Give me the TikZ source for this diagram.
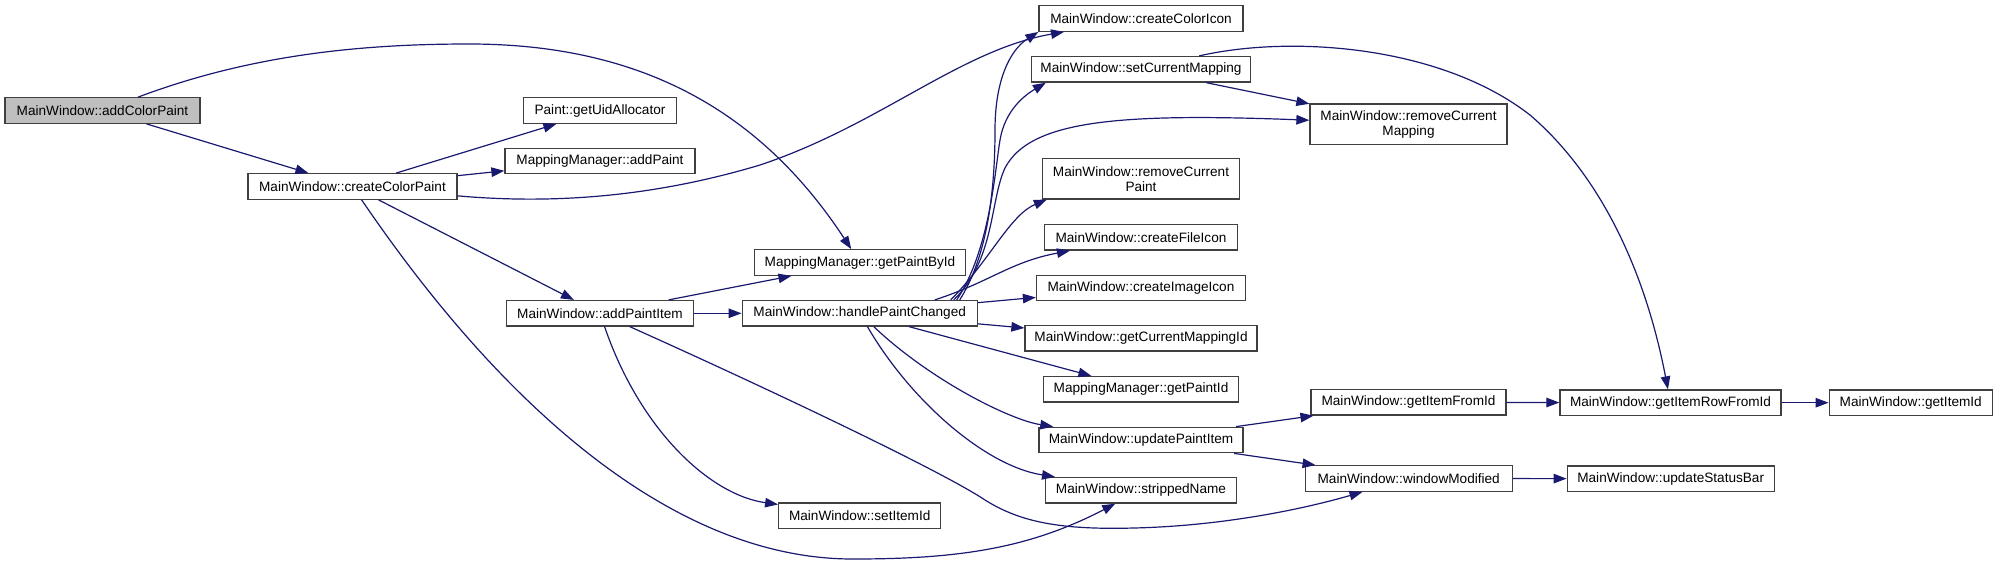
\documentclass[tikz,border=0pt]{standalone}
\usepackage{fontspec}
\setmainfont{Liberation Sans}
\usetikzlibrary{arrows.meta}

\definecolor{edgeblue}{HTML}{191970}
\definecolor{boxgray}{HTML}{404040}
\definecolor{rootgray}{HTML}{BFBFBF}

\tikzset{
	fn/.style={draw=boxgray, line width=1.3pt, fill=white, minimum height=25.5pt,
		inner sep=0pt, align=center, font=\fontsize{13.6}{15}\selectfont},
	fntwo/.style={fn, minimum height=40.3pt},
	call/.style={->, edgeblue, line width=1.2pt},
}

\begin{document}
\begin{tikzpicture}[x=1pt, y=-1pt, >={Triangle[length=13pt,width=9.5pt]}]
		
		% Fix the page to the size of the graph
		\useasboundingbox (0,0) rectangle (1997,565);
		
		% The function the graph starts from
		\node[fn, fill=rootgray, minimum width=195pt] (acp) at (102.5,110.5) {MainWindow::addColorPaint};
		
		% Second column
		\node[fn, minimum width=209pt] (ccp) at (352.5,186.5) {MainWindow::createColorPaint};
		
		% Third column
		\node[fn, minimum width=153pt] (gua) at (600,110.5) {Paint::getUidAllocator};
		\node[fn, minimum width=190pt] (mad) at (600,161) {MappingManager::addPaint};
		\node[fn, minimum width=187pt] (api) at (600,313.3) {MainWindow::addPaintItem};
		
		% Fourth column
		\node[fn, minimum width=211pt] (gpb) at (860,262.5) {MappingManager::getPaintById};
		\node[fn, minimum width=235pt] (hpc) at (859.7,313.3) {MainWindow::handlePaintChanged};
		\node[fn, minimum width=162pt] (sii) at (859.7,515.7) {MainWindow::setItemId};
		
		% Fifth column
		\node[fn, minimum width=204pt] (cci) at (1141,18.5) {MainWindow::createColorIcon};
		\node[fn, minimum width=219pt] (scm) at (1141,69.3) {MainWindow::setCurrentMapping};
		\node[fntwo, minimum width=197pt] (rcp) at (1141,178.7) {MainWindow::removeCurrent\\Paint};
		\node[fn, minimum width=193pt] (cfi) at (1141,237.3) {MainWindow::createFileIcon};
		\node[fn, minimum width=209pt] (cii) at (1141,288) {MainWindow::createImageIcon};
		\node[fn, minimum width=232pt] (gcm) at (1141,338.3) {MainWindow::getCurrentMappingId};
		\node[fn, minimum width=195pt] (gpi) at (1141,389.3) {MappingManager::getPaintId};
		\node[fn, minimum width=204pt] (upi) at (1141,440) {MainWindow::updatePaintItem};
		\node[fn, minimum width=191pt] (spn) at (1141,490.3) {MainWindow::strippedName};
		
		% Sixth column
		\node[fntwo, minimum width=197pt] (rcm) at (1408.5,124) {MainWindow::removeCurrent\\Mapping};
		\node[fn, minimum width=195pt] (gif) at (1408.5,402.3) {MainWindow::getItemFromId};
		\node[fn, minimum width=207pt] (wmd) at (1408.7,478.5) {MainWindow::windowModified};
		
		% Last columns
		\node[fn, minimum width=221pt] (grf) at (1670.5,402.7) {MainWindow::getItemRowFromId};
		\node[fn, minimum width=207pt] (usb) at (1670.7,478.7) {MainWindow::updateStatusBar};
		\node[fn, minimum width=163pt] (gid) at (1910.7,402.7) {MainWindow::getItemId};
		
		% Calls made by addColorPaint
		\draw[call] (acp) -- (ccp);
		\draw[call] (acp) .. controls (250,55) and (360,44) .. (469,44)
			.. controls (640,44) and (760,110) .. (gpb);
		
		% Calls made by createColorPaint
		\draw[call] (ccp) -- (gua);
		\draw[call] (ccp) -- (mad);
		\draw[call] (ccp) -- (api);
		\draw[call] (ccp) .. controls (560,205) and (660,195) .. (760,165)
			.. controls (880,125) and (960,50) .. (cci);
		\draw[call] (ccp) .. controls (430,300) and (620,560) .. (854,559)
			.. controls (960,559) and (1030,548) .. (spn);
		
		% Calls made by addPaintItem
		\draw[call] (api) -- (gpb);
		\draw[call] (api) -- (hpc);
		\draw[call] (api) .. controls (640,430) and (710,495) .. (sii);
		\draw[call] (api) .. controls (760,385) and (940,470) .. (985,500)
			.. controls (1020,522) and (1060,530) .. (1134,528)
			.. controls (1220,526) and (1300,510) .. (wmd);
		
		% Calls made by handlePaintChanged
		\draw[call] ([xshift=100pt]hpc.north) .. controls (985,260) and (995,200) .. (995,130)
			.. controls (995,80) and (1010,50) .. (cci.south west);
		\draw[call] ([xshift=97pt]hpc.north) .. controls (990,250) and (995,170) .. (1000,140)
			.. controls (1005,110) and (1025,95) .. ([xshift=15pt]scm.south west);
		\draw[call] ([xshift=94pt]hpc.north) .. controls (995,260) and (990,200) .. (1005,168)
			.. controls (1030,120) and (1120,113) .. (rcm);
		\draw[call] ([xshift=91pt]hpc.north) .. controls (990,260) and (1010,215) .. ([xshift=5pt]rcp.south west);
		\draw[call] ([xshift=75pt]hpc.north) .. controls (990,282) and (1010,262) .. (cfi);
		\draw[call] (hpc) -- (cii);
		\draw[call] (hpc) -- (gcm);
		\draw[call] (hpc) -- (gpi);
		\draw[call] (hpc) .. controls (930,380) and (1010,420) .. (upi);
		\draw[call] (hpc) .. controls (910,400) and (985,466) .. (spn);
		
		% Calls made by setCurrentMapping
		\draw[call] (scm) -- (rcm);
		\draw[call] (scm) .. controls (1290,35) and (1440,45) .. (1530,115)
			.. controls (1600,175) and (1645,270) .. (grf);
		
		% Calls made by updatePaintItem
		\draw[call] (upi) -- (gif);
		\draw[call] (upi) -- (wmd);
		
		% Remaining calls
		\draw[call] (gif) -- (grf);
		\draw[call] (grf) -- (gid);
		\draw[call] (wmd) -- (usb);
		
	\end{tikzpicture}
\end{document}
